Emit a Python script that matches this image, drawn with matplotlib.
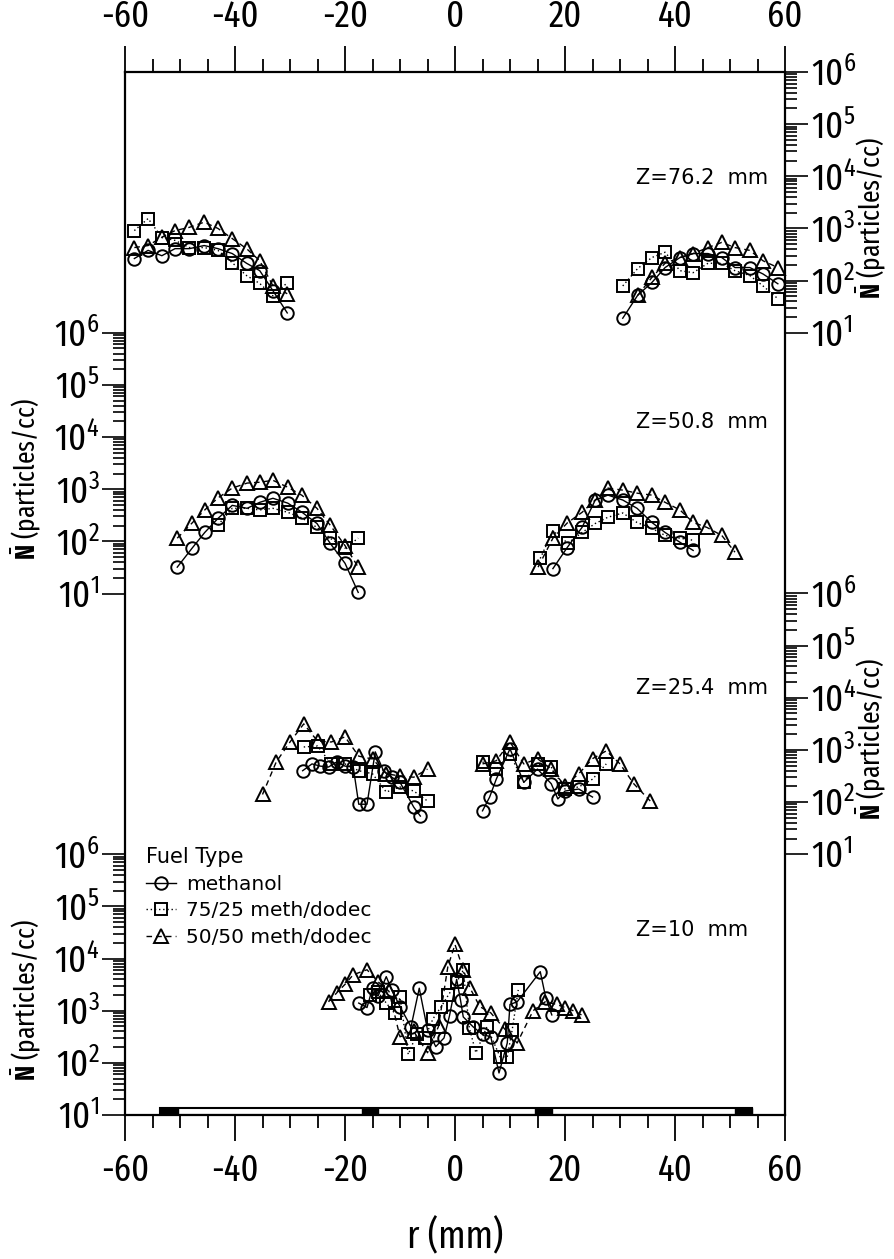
import numpy as np
import matplotlib
matplotlib.use("Agg")
import matplotlib.pyplot as plt
import matplotlib.transforms as mtransforms
from matplotlib.font_manager import fontManager, FontProperties
from matplotlib.patches import Rectangle
from matplotlib.ticker import LogLocator, MultipleLocator, NullFormatter, FuncFormatter

# Mean droplet number density vs radial position, four axial stations
# Z = 76.2 mm
r76_l = [-58.3, -55.8, -53.3, -50.9, -48.3, -45.6, -43.1, -40.5, -37.9, -35.5, -33.1, -30.5]
n76_l_meth = [265, 380, 300, 410, 410, 470, 410, 330, 215, 155, 64, 24]
n76_l_7525 = [910, 1550, 670, 590, 430, 430, 380, 220, 125, 88, 51, 91]
n76_l_5050 = [430, 470, 680, 910, 1050, 1320, 1000, 640, 410, 240, 79, 56]
r76_r = [30.5, 33.2, 35.8, 38.2, 40.9, 43.3, 46.0, 48.5, 50.9, 53.6, 56.0, 58.7]
n76_r_meth = [19, 52, 92, 178, 277, 330, 330, 277, 178, 178, 134, 87]
n76_r_7525 = [79, 170, 277, 350, 155, 142, 215, 215, 155, 125, 79, 45]
r76_r_5050 = [33.2, 35.8, 38.2, 40.9, 43.3, 46.0, 48.5, 50.9, 53.6, 56.0, 58.7]
n76_r_5050 = [52, 115, 215, 277, 330, 430, 540, 430, 380, 240, 178]

# Z = 50.8 mm
r50_l = [-50.5, -47.8, -45.5, -43.1, -40.5, -37.8, -35.5, -33.1, -30.4, -27.8, -25.1, -22.7, -20.0, -17.6]
n50_l_meth = [32, 74, 148, 275, 490, 430, 560, 670, 540, 360, 220, 92, 38, 10.5]
n50_l_5050 = [115, 225, 400, 680, 1050, 1310, 1360, 1480, 1090, 760, 430, 205, 83, 32]
r50_l_7525 = [-43.1, -40.5, -37.8, -35.5, -33.1, -30.4, -27.8, -25.1, -22.7, -20.0, -17.6]
n50_l_7525 = [205, 430, 430, 400, 430, 360, 280, 185, 115, 74, 115]
r50_r_meth = [17.8, 20.4, 23.1, 25.5, 27.8, 30.5, 33.1, 35.8, 38.2, 40.9, 43.3]
n50_r_meth = [30, 76, 185, 620, 770, 620, 430, 230, 148, 96, 67]
r50_r_7525 = [15.5, 17.8, 20.5, 23.1, 25.5, 27.8, 30.5, 33.1, 35.8, 38.2, 40.9, 43.3]
n50_r_7525 = [47, 160, 92, 148, 220, 290, 350, 230, 178, 130, 115, 105]
r50_r_5050 = [15.1, 17.8, 20.4, 23.1, 25.5, 27.8, 30.5, 33.1, 35.8, 38.2, 40.9, 43.3, 45.8, 48.5, 50.9]
n50_r_5050 = [32, 115, 225, 360, 620, 1050, 960, 840, 770, 560, 400, 230, 185, 130, 62]

# Z = 25.4 mm
r25_l_meth = [-27.7, -26.0, -24.5, -23.0, -21.5, -20.0, -18.5, -17.5, -16.0, -14.5, -13.0, -11.5, -10.0, -7.5, -6.3]
n25_l_meth = [400, 540, 490, 470, 590, 490, 470, 91, 91, 920, 400, 300, 240, 80, 54]
r25_l_7525 = [-27.5, -25.0, -22.5, -20.0, -17.5, -15.0, -12.5, -10.0, -7.5, -5.0]
n25_l_7525 = [1140, 1190, 540, 540, 400, 350, 156, 195, 163, 105]
r25_l_5050 = [-35.0, -32.5, -30.0, -27.5, -25.0, -22.5, -20.0, -17.5, -15.0, -12.5, -10.0, -7.5, -5.0]
n25_l_5050 = [140, 590, 1420, 3160, 1480, 1420, 1780, 760, 670, 350, 316, 300, 430]
r25_r_meth = [5.0, 6.3, 7.5, 10.0, 12.5, 15.0, 17.5, 18.7, 20.0, 22.5, 25.0]
n25_r_meth = [68, 125, 275, 1050, 240, 430, 225, 115, 163, 178, 125]
r25_r_7525 = [5.0, 7.5, 10.0, 12.5, 15.0, 17.5, 20.0, 22.5, 25.0, 27.5]
n25_r_7525 = [590, 430, 830, 240, 540, 470, 178, 195, 275, 540]
r25_r_5050 = [5.0, 7.5, 10.0, 12.5, 15.0, 17.5, 20.0, 22.5, 25.0, 27.5, 30.0, 32.5, 35.5]
n25_r_5050 = [540, 620, 1420, 540, 680, 430, 205, 350, 680, 960, 540, 225, 105]

# Z = 10 mm
r10_meth = [-17.5, -16.0, -15.0, -14.0, -12.5, -11.5, -10.0, -8.0, -6.5, -5.0, -3.5, -2.0, -1.0,
            0.3, 1.0, 1.5, 3.3, 5.0, 6.5, 8.0, 9.5, 10.0, 11.3, 15.5, 16.5, 17.6]
n10_meth = [1400, 1150, 2700, 1900, 4500, 2500, 1200, 490, 2700, 430, 205, 300, 800,
            4000, 1600, 760, 490, 350, 316, 64, 240, 1320, 1480, 5600, 1780, 830]
r10_7525 = [-15.5, -14.0, -12.5, -11.0, -10.0, -8.5, -7.0, -5.5, -4.0, -2.5, -1.2, 0.3,
            1.5, 2.6, 3.8, 5.8, 8.2, 9.5, 10.4, 11.5]
n10_7525 = [2000, 2300, 1400, 900, 1800, 145, 350, 300, 700, 1200, 2000, 3500,
            6000, 470, 156, 490, 130, 130, 430, 2500]
r10_5050 = [-23.0, -21.5, -20.0, -18.5, -16.0, -14.0, -12.0, -10.0, -7.5, -5.0, -3.0, -1.3, 0.0,
            1.5, 2.7, 4.5, 6.5, 9.0, 11.3, 14.2, 16.4, 18.5, 20.0, 21.5, 23.0]
n10_5050 = [1480, 2200, 3200, 4900, 6100, 3600, 2350, 316, 400, 156, 500, 7000, 18600,
            6100, 2760, 1200, 910, 450, 240, 1000, 1480, 1320, 1150, 1000, 830]

fuel_labels = ["methanol", "75/25 meth/dodec", "50/50 meth/dodec"]
station_labels = ["Z=10  mm", "Z=25.4  mm", "Z=50.8  mm", "Z=76.2  mm"]

# the injector outline along the bottom axis (mm)
injector_span = [-53.6, 54.0]
injector_blocks = [(-53.6, -50.4), (-16.9, -14.0), (14.5, 17.6), (50.9, 54.0)]

names = {f.name for f in fontManager.ttflist}
COND = next((n for n in ["Fira Sans Extra Condensed", "Roboto Condensed",
                         "Sofia Sans Condensed", "Liberation Sans Narrow"] if n in names),
            "DejaVu Sans")

plt.rcParams["font.family"] = [COND, "DejaVu Sans"]
plt.rcParams["mathtext.fontset"] = "custom"
plt.rcParams["mathtext.rm"] = COND
plt.rcParams["mathtext.bf"] = COND + ":bold"
plt.rcParams["axes.unicode_minus"] = False

W, H = 894, 1259
X0, X1 = 125, 785
Y_TOP, Y_BOT = 72, 1115
PANEL_H = (Y_BOT - Y_TOP) / 4


def fig_rect(x0, x1, ytop, ybot):
    return [x0 / W, 1 - ybot / H, (x1 - x0) / W, (ybot - ytop) / H]


fig = plt.figure(figsize=(W / 100, H / 100), dpi=100)

# outer frame carries the shared r axis, top and bottom
frame = fig.add_axes(fig_rect(X0, X1, Y_TOP, Y_BOT))
frame.set_xlim(-60, 60)
frame.set_ylim(0, 1)
frame.set_yticks([])
for s in frame.spines.values():
    s.set_linewidth(1.6)
frame.xaxis.set_major_locator(MultipleLocator(20))
frame.xaxis.set_minor_locator(MultipleLocator(5))
frame.tick_params(axis="x", which="both", direction="out", top=True, bottom=True,
                  labeltop=True, labelbottom=True, width=1.3, labelsize=27, pad=8)
frame.tick_params(axis="x", which="major", length=19)
frame.tick_params(axis="x", which="minor", length=9.5)
frame.set_xlabel("r (mm)", fontsize=28)
frame.xaxis.set_label_coords(0.5, -0.098)

bar_tr = mtransforms.blended_transform_factory(frame.transData, frame.transAxes)
bar_h = 7 / (Y_BOT - Y_TOP)
frame.add_patch(Rectangle((injector_span[0], 0), injector_span[1] - injector_span[0], bar_h,
                          transform=bar_tr, facecolor="white", edgecolor="black", lw=1.5))
for a, b in injector_blocks:
    frame.add_patch(Rectangle((a, 0), b - a, bar_h, transform=bar_tr,
                              facecolor="black", edgecolor="black", lw=1))

styles = [
    dict(ls="-", marker="o", ms=9),
    dict(ls=(0, (1, 2)), marker="s", ms=8.5),
    dict(ls=(0, (4, 3)), marker="^", ms=10),
]
for st in styles:
    st.update(color="black", lw=1.0, mfc="none", mec="black", mew=1.4, clip_on=False)

ylabel = r"$\bar{\mathbf{N}}$ (particles/cc)"


def make_panel(k, side):
    ybot = Y_BOT - k * PANEL_H
    ax = fig.add_axes(fig_rect(X0, X1, ybot - PANEL_H, ybot))
    ax.set_xlim(-60, 60)
    ax.set_yscale("log")
    ax.set_ylim(10, 1e6)
    ax.patch.set_visible(False)
    for s in ax.spines.values():
        s.set_visible(False)
    ax.xaxis.set_visible(False)
    ax.yaxis.set_major_locator(LogLocator(base=10, numticks=10))
    ax.yaxis.set_minor_locator(LogLocator(base=10, subs=np.arange(2, 10), numticks=20))
    ax.yaxis.set_minor_formatter(NullFormatter())
    ax.yaxis.set_major_formatter(FuncFormatter(
        lambda v, p: r"$\mathdefault{10^{%d}}$" % round(np.log10(v))))
    ax.tick_params(axis="y", which="both", direction="out", width=1.2,
                   labelsize=27, pad=2)
    ax.tick_params(axis="y", which="major", length=16.5)
    ax.tick_params(axis="y", which="minor", length=8.5)
    ax.set_ylabel(ylabel, fontsize=20)
    if side == "right":
        ax.yaxis.tick_right()
        ax.yaxis.set_label_position("right")
        ax.yaxis.set_label_coords(1.105, 0.44)
    else:
        ax.yaxis.set_label_coords(-0.124, 0.44)
    return ax


ax10 = make_panel(0, "left")
ax25 = make_panel(1, "right")
ax50 = make_panel(2, "left")
ax76 = make_panel(3, "right")

# Z = 10 mm
ax10.plot(r10_meth, n10_meth, label=fuel_labels[0], **styles[0])
ax10.plot(r10_7525, n10_7525, label=fuel_labels[1], **styles[1])
ax10.plot(r10_5050, n10_5050, label=fuel_labels[2], **styles[2])

# Z = 25.4 mm
ax25.plot(r25_l_meth, n25_l_meth, **styles[0])
ax25.plot(r25_r_meth, n25_r_meth, **styles[0])
ax25.plot(r25_l_7525, n25_l_7525, **styles[1])
ax25.plot(r25_r_7525, n25_r_7525, **styles[1])
ax25.plot(r25_l_5050, n25_l_5050, **styles[2])
ax25.plot(r25_r_5050, n25_r_5050, **styles[2])

# Z = 50.8 mm
ax50.plot(r50_l, n50_l_meth, **styles[0])
ax50.plot(r50_r_meth, n50_r_meth, **styles[0])
ax50.plot(r50_l_7525, n50_l_7525, **styles[1])
ax50.plot(r50_r_7525, n50_r_7525, **styles[1])
ax50.plot(r50_l, n50_l_5050, **styles[2])
ax50.plot(r50_r_5050, n50_r_5050, **styles[2])

# Z = 76.2 mm
ax76.plot(r76_l, n76_l_meth, **styles[0])
ax76.plot(r76_r, n76_r_meth, **styles[0])
ax76.plot(r76_l, n76_l_7525, **styles[1])
ax76.plot(r76_r, n76_r_7525, **styles[1])
ax76.plot(r76_l, n76_l_5050, **styles[2])
ax76.plot(r76_r_5050, n76_r_5050, **styles[2])

label_font = FontProperties(family="DejaVu Sans", size=15)
for ax, txt, yfrac in zip([ax10, ax25, ax50, ax76], station_labels, [0.709, 0.638, 0.658, 0.593]):
    tr = mtransforms.blended_transform_factory(ax.transData, ax.transAxes)
    ax.text(33, yfrac, txt, transform=tr, ha="left", va="center", fontproperties=label_font)

leg = ax10.legend(loc="upper left", bbox_to_anchor=(146 / W, 1 - 847 / H),
                  bbox_transform=fig.transFigure, frameon=False, title="Fuel Type",
                  alignment="left", prop=FontProperties(family="DejaVu Sans", size=14.5),
                  title_fontproperties=FontProperties(family="DejaVu Sans", size=15),
                  handlelength=1.5, handletextpad=0.5, labelspacing=0.38,
                  borderpad=0, borderaxespad=0, numpoints=1)

fig.savefig("out.png", dpi=100)
